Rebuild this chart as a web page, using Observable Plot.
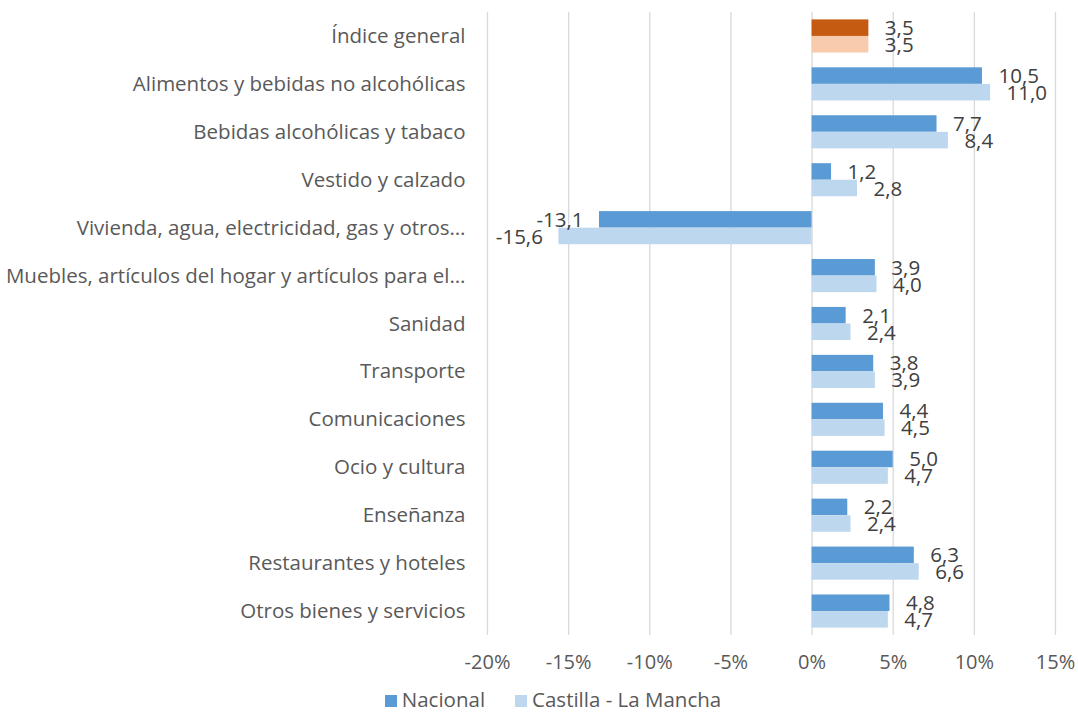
<!DOCTYPE html>
<html>
<head>
<meta charset="utf-8">
<script src="https://cdn.jsdelivr.net/npm/d3@7"></script>
<script src="https://cdn.jsdelivr.net/npm/@observablehq/plot@0.6"></script>
<style>
  html, body { margin: 0; background: #fff; font-family: "Open Sans", Lato, sans-serif; overflow: hidden; }
  #chart svg { display: block; }
  #legend { position: absolute; left: 0; width: 1078px; top: 686px; display: flex; justify-content: center; gap: 30px; padding-left: 28px; box-sizing: border-box; font-size: 20.5px; color: #595959; line-height: 27px; }
  #legend span.sw { display: inline-block; width: 12px; height: 12px; margin-right: 5px; vertical-align: 0px; }
</style>
</head>
<body>
<div id="chart"></div>
<div id="legend">
  <div><span class="sw" style="background:#5B9BD5"></span>Nacional</div>
  <div><span class="sw" style="background:#BDD7EE"></span>Castilla - La Mancha</div>
</div>
<script>
const categories = [
  "Índice general",
  "Alimentos y bebidas no alcohólicas",
  "Bebidas alcohólicas y tabaco",
  "Vestido y calzado",
  "Vivienda, agua, electricidad, gas y otros…",
  "Muebles, artículos del hogar y artículos para el…",
  "Sanidad",
  "Transporte",
  "Comunicaciones",
  "Ocio y cultura",
  "Enseñanza",
  "Restaurantes y hoteles",
  "Otros bienes y servicios"
];
const nacional = [3.5, 10.5, 7.7, 1.2, -13.1, 3.9, 2.1, 3.8, 4.4, 5.0, 2.2, 6.3, 4.8];
const castilla = [3.5, 11.0, 8.4, 2.8, -15.6, 4.0, 2.4, 3.9, 4.5, 4.7, 2.4, 6.6, 4.7];
const xTicks = [-20, -15, -10, -5, 0, 5, 10, 15];

const nac = categories.map((c, i) => ({cat: c, v: nacional[i], i}));
const cas = categories.map((c, i) => ({cat: c, v: castilla[i], i}));
const fmt = d => d.v.toFixed(1).replace(".", ",");
const gap = 7.4, bar = 16.6;

const labelStyle = {fontSize: 20.5, fill: "#404040"};

const chart = Plot.plot({
  width: 1078,
  height: 680,
  marginLeft: 487,
  marginRight: 23,
  marginTop: 12,
  marginBottom: 45,
  style: {fontFamily: "'Open Sans', Lato, sans-serif", fontSize: "20px", color: "#595959", background: "#fff"},
  x: {domain: [-20, 15], ticks: xTicks, tickFormat: d => d + "%", tickSize: 0, tickPadding: 19, label: null},
  y: {domain: categories, padding: 0, round: false, label: null},
  marks: [
    Plot.ruleX(xTicks, {stroke: "#d9d9d9", strokeWidth: 1.3}),
    Plot.barX(nac, {x: "v", y: "cat", insetTop: gap, insetBottom: gap + bar, fill: d => d.i === 0 ? "#C55A11" : "#5B9BD5"}),
    Plot.barX(cas, {x: "v", y: "cat", insetTop: gap + bar, insetBottom: gap, fill: d => d.i === 0 ? "#F8CBAD" : "#BDD7EE"}),
    Plot.axisY({tickSize: 0, tickPadding: 22, fontSize: 20.5, label: null}),
    Plot.text(nac.filter(d => d.v >= 0), {x: "v", y: "cat", text: fmt, dx: 16, dy: -8, textAnchor: "start", ...labelStyle}),
    Plot.text(nac.filter(d => d.v < 0), {x: "v", y: "cat", text: fmt, dx: -16, dy: -8, textAnchor: "end", ...labelStyle}),
    Plot.text(cas.filter(d => d.v >= 0), {x: "v", y: "cat", text: fmt, dx: 16, dy: 9, textAnchor: "start", ...labelStyle}),
    Plot.text(cas.filter(d => d.v < 0), {x: "v", y: "cat", text: fmt, dx: -16, dy: 9, textAnchor: "end", ...labelStyle})
  ]
});
document.getElementById("chart").appendChild(chart);
</script>
</body>
</html>
